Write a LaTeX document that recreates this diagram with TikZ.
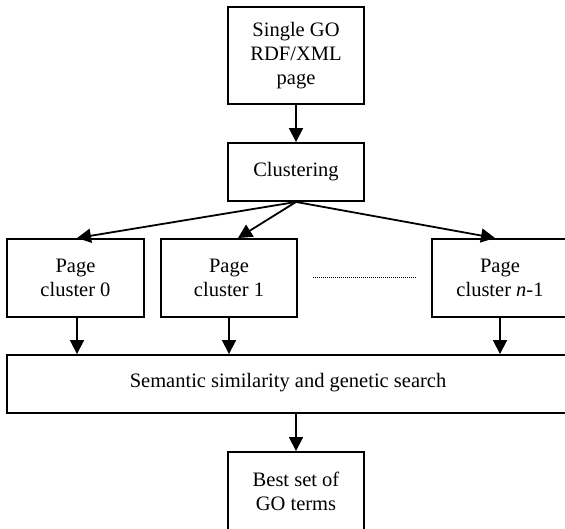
\documentclass[tikz,border=0pt]{standalone}
\usepackage{fontspec}
\setmainfont{Liberation Serif}
\usetikzlibrary{arrows.meta}
\begin{document}
\begin{tikzpicture}[x=1pt,y=-1pt,
  box/.style={draw,line width=1.9pt,align=center,inner sep=0pt,
    font=\fontsize{20.5}{24}\selectfont},
  arr/.style={line width=1.8pt,-{Triangle[length=14pt,width=14pt]}}]
\useasboundingbox (0,0) rectangle (565,529);
\node[box,minimum width=136pt,minimum height=97pt] (top) at (296,55.5) {Single GO\\RDF/XML\\page};
\node[box,minimum width=136pt,minimum height=58pt] (clu) at (296,172) {Clustering};
\node[box,minimum width=137pt,minimum height=78pt] (pc0) at (75.5,278) {Page\\cluster 0};
\node[box,minimum width=136pt,minimum height=78pt] (pc1) at (229,278) {Page\\cluster 1};
\node[box,minimum width=136pt,minimum height=78pt] (pcn) at (500,278) {Page\\cluster \textit{n}-1};
\node[box,minimum width=562pt,minimum height=58pt] (sem) at (288,384) {};
\node[font=\fontsize{20.5}{24}\selectfont] (semt) at (288,383) {Semantic similarity and genetic search};
\node[box,minimum width=136pt,minimum height=78pt] (best) at (296,491) {Best set of\\GO terms};
\coordinate (d1) at (313,278);
\coordinate (d2) at (416,278);
\draw[line width=1pt,dash pattern=on 1pt off 1pt] (d1) -- (d2);
\draw[arr] (top.south) -- (clu.north);
\draw[arr] (clu.south) -- ([xshift=1.5pt]pc0.north);
\draw[arr] (clu.south) -- ([xshift=9pt]pc1.north);
\draw[arr] (clu.south) -- ([xshift=-5pt]pcn.north);
\draw[arr] ([xshift=1.5pt]pc0.south) -- ([xshift=1.5pt]sem.north -| pc0.south);
\draw[arr] (pc1.south) -- (sem.north -| pc1.south);
\draw[arr] (pcn.south) -- (sem.north -| pcn.south);
\draw[arr] (sem.south -| best.north) -- (best.north);
\end{tikzpicture}
\end{document}
